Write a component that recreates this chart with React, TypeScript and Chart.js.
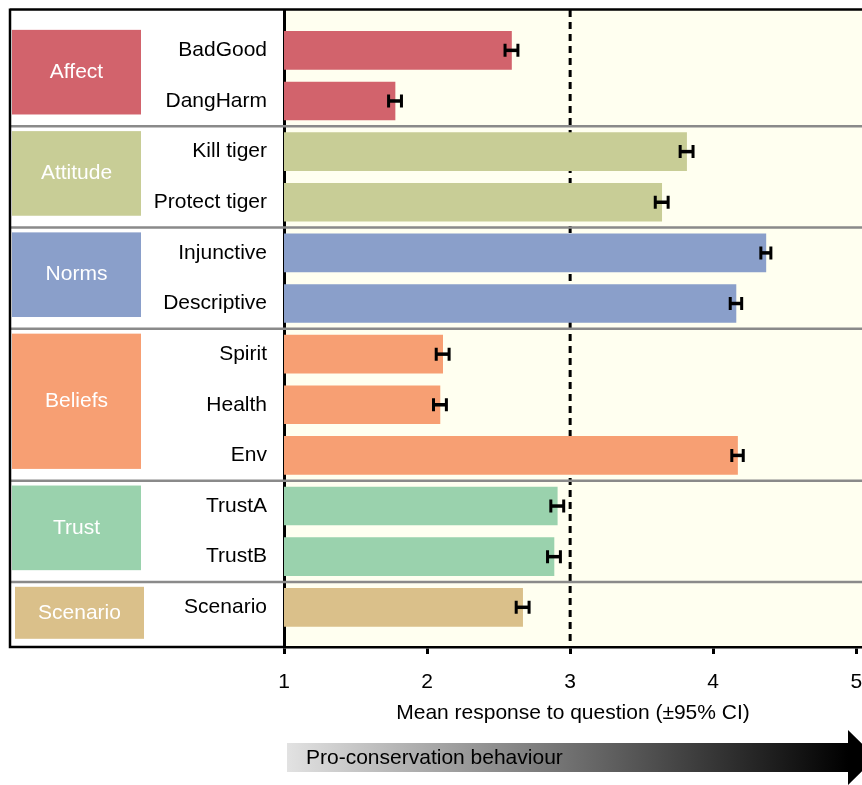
import React, { useEffect, useRef } from 'react';
import { Chart, registerables } from 'chart.js';

Chart.register(...registerables);

// ---- data ----
const categories = [
  'BadGood', 'DangHarm', 'Kill tiger', 'Protect tiger', 'Injunctive', 'Descriptive',
  'Spirit', 'Health', 'Env', 'TrustA', 'TrustB', 'Scenario',
];
const groups = [
  'Affect', 'Affect', 'Attitude', 'Attitude', 'Norms', 'Norms',
  'Beliefs', 'Beliefs', 'Beliefs', 'Trust', 'Trust', 'Scenario',
];
const means = [2.59, 1.776, 3.814, 3.64, 4.368, 4.159, 2.109, 2.09, 4.17, 2.91, 2.887, 2.668];
const ciHalf = [0.045, 0.045, 0.045, 0.045, 0.035, 0.04, 0.045, 0.045, 0.04, 0.045, 0.045, 0.045];
const groupNames = ['Affect', 'Attitude', 'Norms', 'Beliefs', 'Trust', 'Scenario'];
const groupColors = ['#D2636C', '#C8CD96', '#8A9FCA', '#F79F73', '#9AD2AD', '#DAC08A'];
const xTicks = [1, 2, 3, 4, 5];
const xTitle = 'Mean response to question (±95% CI)';
const arrowLabel = 'Pro-conservation behaviour';
const refLine = 3;

const FONT = '"Liberation Sans", Arial, Helvetica, sans-serif';

const decoPlugin = {
  id: 'deco',
  beforeDraw(chart: any) {
    const { ctx, chartArea: a } = chart;
    ctx.save();
    ctx.fillStyle = '#FFFFF0';
    ctx.fillRect(a.left, a.top, a.right - a.left, a.bottom - a.top);
    ctx.restore();
  },
  beforeDatasetsDraw(chart: any) {
    const { ctx, chartArea: a, scales } = chart;
    const px = scales.x.getPixelForValue(refLine);
    ctx.save();
    ctx.strokeStyle = '#000';
    ctx.lineWidth = 3;
    ctx.setLineDash([7, 5]);
    ctx.beginPath();
    ctx.moveTo(px, a.top);
    ctx.lineTo(px, a.bottom);
    ctx.stroke();
    ctx.restore();
  },
  afterDatasetsDraw(chart: any) {
    const { ctx, chartArea: a, scales } = chart;
    const x = scales.x;
    const y = scales.y;
    ctx.save();
    // error bars
    ctx.strokeStyle = '#000';
    means.forEach((m, i) => {
      const py = y.getPixelForValue(i);
      const x1 = x.getPixelForValue(m - ciHalf[i]);
      const x2 = x.getPixelForValue(m + ciHalf[i]);
      ctx.lineWidth = 3.5;
      ctx.beginPath();
      ctx.moveTo(x1, py);
      ctx.lineTo(x2, py);
      ctx.stroke();
      ctx.lineWidth = 3;
      ctx.beginPath();
      ctx.moveTo(x1, py - 6.5);
      ctx.lineTo(x1, py + 6.5);
      ctx.moveTo(x2, py - 6.5);
      ctx.lineTo(x2, py + 6.5);
      ctx.stroke();
    });
    // group separators
    ctx.strokeStyle = '#8a8a8a';
    ctx.lineWidth = 2.5;
    for (let i = 1; i < groups.length; i++) {
      if (groups[i] !== groups[i - 1]) {
        const py = (y.getPixelForValue(i - 1) + y.getPixelForValue(i)) / 2;
        ctx.beginPath();
        ctx.moveTo(10, py);
        ctx.lineTo(chart.width, py);
        ctx.stroke();
      }
    }
    // group boxes
    ctx.textAlign = 'center';
    ctx.textBaseline = 'middle';
    ctx.font = `21px ${FONT}`;
    groupNames.forEach((g, gi) => {
      const idx = groups.map((gg, i) => (gg === g ? i : -1)).filter((i) => i >= 0);
      const top = y.getPixelForValue(idx[0]) - 20.5;
      const bottom = Math.max(y.getPixelForValue(idx[idx.length - 1]) + 13.5, top + 52);
      const left = idx.length === 1 ? 15 : 12;
      const w = 129;
      ctx.fillStyle = groupColors[gi];
      ctx.fillRect(left, top, w, bottom - top);
      ctx.fillStyle = '#fff';
      ctx.fillText(g, left + w / 2, (top + bottom) / 2);
    });
    // frame
    ctx.strokeStyle = '#000';
    ctx.lineWidth = 2.5;
    ctx.beginPath();
    ctx.moveTo(10, a.top - 0.5);
    ctx.lineTo(chart.width, a.top - 0.5);
    ctx.moveTo(10, a.top - 1.5);
    ctx.lineTo(10, a.bottom);
    ctx.lineTo(a.left, a.bottom);
    ctx.stroke();
    ctx.restore();
  },
  afterDraw(chart: any) {
    const { ctx, chartArea: a } = chart;
    ctx.save();
    const x0 = a.left + 3;
    const xh = a.right - 14;
    const yc = 757.5;
    const grad = ctx.createLinearGradient(x0, 0, xh, 0);
    grad.addColorStop(0, '#e2e2e2');
    grad.addColorStop(1, '#000000');
    ctx.fillStyle = grad;
    ctx.beginPath();
    ctx.moveTo(x0, yc - 14.5);
    ctx.lineTo(xh, yc - 14.5);
    ctx.lineTo(xh, yc - 27.5);
    ctx.lineTo(xh + 28, yc);
    ctx.lineTo(xh, yc + 27.5);
    ctx.lineTo(xh, yc + 14.5);
    ctx.lineTo(x0, yc + 14.5);
    ctx.closePath();
    ctx.fill();
    ctx.fillStyle = '#000';
    ctx.font = `21px ${FONT}`;
    ctx.textAlign = 'left';
    ctx.textBaseline = 'middle';
    ctx.fillText(arrowLabel, a.left + 22, yc + 1);
    ctx.restore();
  },
};

export default function App() {
  const ref = useRef<HTMLCanvasElement>(null);
  useEffect(() => {
    Chart.defaults.font.family = FONT;
    Chart.defaults.font.size = 21;
    Chart.defaults.color = '#000';
    const chart = new Chart(ref.current as HTMLCanvasElement, {
      type: 'bar',
      data: {
        datasets: [
          {
            data: means.map((m, i) => ({ x: m, y: i })) as any,
            backgroundColor: groups.map((g) => groupColors[groupNames.indexOf(g)]),
            borderWidth: 0,
            barThickness: 38,
          },
        ],
      },
      options: {
        indexAxis: 'y',
        responsive: false,
        devicePixelRatio: 1,
        animation: false,
        layout: { padding: { top: 10, left: 0, right: 0, bottom: 0 } },
        plugins: { legend: { display: false }, tooltip: { enabled: false } },
        scales: {
          x: {
            type: 'linear',
            min: 1,
            max: 5.04,
            offset: false,
            afterBuildTicks: (s: any) => {
              s.ticks = xTicks.map((v) => ({ value: v }));
            },
            afterFit: (s: any) => {
              s.height = 138;
              s.paddingLeft = 0;
              s.paddingRight = 0;
            },
            ticks: { padding: 16, color: '#000', font: { size: 21 }, autoSkip: false, maxRotation: 0 },
            grid: { drawOnChartArea: false, drawTicks: true, tickLength: 7, tickWidth: 3, tickColor: '#000', offset: false },
            border: { display: true, color: '#000', width: 2.5 },
            title: { display: true, text: xTitle, color: '#000', font: { size: 21 }, padding: { top: 0, bottom: 59 } },
            z: 1,
          },
          y: {
            type: 'linear',
            reverse: true,
            offset: false,
            min: -0.797,
            max: 11.784,
            afterBuildTicks: (s: any) => {
              s.ticks = categories.map((_, i) => ({ value: i }));
            },
            afterFit: (s: any) => {
              s.width = 284;
              s.paddingTop = 0;
              s.paddingBottom = 0;
            },
            ticks: {
              callback: (v: any) => categories[v as number] ?? '',
              padding: 17,
              color: '#000',
              font: { size: 21 },
              autoSkip: false,
            },
            grid: { display: false, drawTicks: false, offset: false },
            border: { display: true, color: '#000', width: 3 },
            z: 1,
          },
        },
      } as any,
      plugins: [decoPlugin],
    });
    return () => chart.destroy();
  }, []);
  return (
    <div style={{ position: 'absolute', left: 0, top: 0, width: 862, height: 785, overflow: 'hidden', background: '#fff' }}>
      <canvas ref={ref} width={862} height={785} style={{ display: 'block', width: 862, height: 785 }} />
    </div>
  );
}
